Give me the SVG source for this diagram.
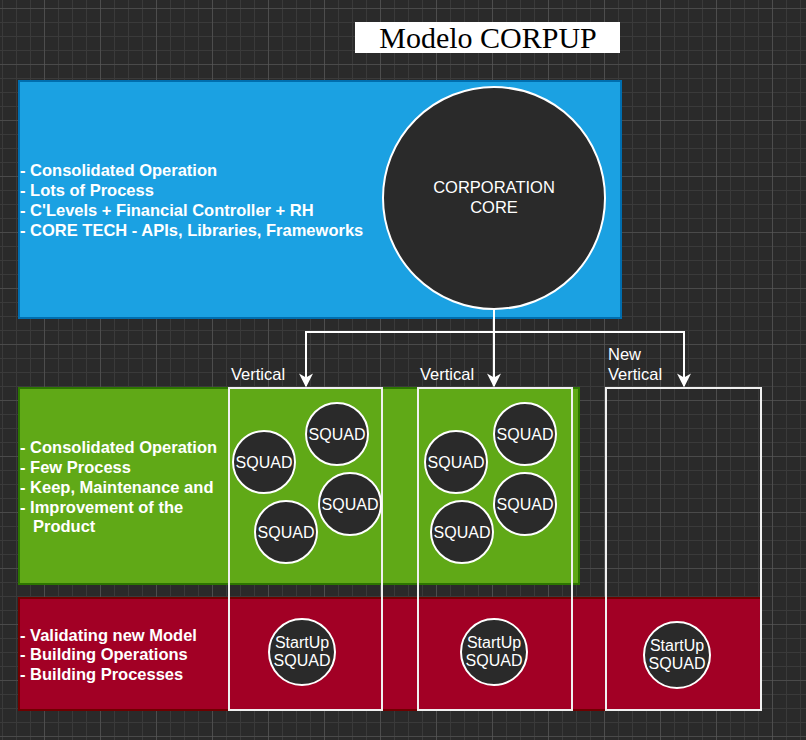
<svg xmlns="http://www.w3.org/2000/svg" width="806" height="740" viewBox="0 0 806 740">
<defs>
<pattern id="minor" x="2" y="8" width="14" height="14" patternUnits="userSpaceOnUse"><path d="M0 0H14M0 0V14" stroke="#3a3a3a" stroke-width="2" fill="none"/></pattern>
<pattern id="major" x="44" y="8" width="56" height="56" patternUnits="userSpaceOnUse"><path d="M0 0H56M0 0V56" stroke="#5a5a5a" stroke-width="1.2" fill="none"/></pattern>
<marker id="ah" viewBox="0 0 10 10" refX="9" refY="5" markerWidth="7" markerHeight="7" orient="auto"><path d="M0 0L10 5L0 10L3 5Z" fill="#fff"/></marker>
</defs>
<style>
.c{fill:#2a2a2a;stroke:#fff;stroke-width:2}
.t{font-family:"Liberation Sans",Arial,sans-serif;fill:#fff;font-size:16.5px}
.b{font-weight:bold;font-size:16.5px}
.s{font-size:16px}
.col{fill:none;stroke:#f0f0f0;stroke-width:2}
.ln{fill:none;stroke:#fff;stroke-width:2}
</style>
<rect width="806" height="740" fill="#2a2a2a"/>
<rect width="806" height="740" fill="url(#minor)"/>
<rect width="806" height="740" fill="url(#major)"/>
<g id="title"><rect x="355" y="22" width="265" height="31" fill="#fff"/><text x="488" y="48" text-anchor="middle" font-family="Liberation Serif,serif" font-size="30" fill="#000">Modelo CORPUP</text></g>
<g id="core-layer"><rect x="19" y="81" width="602" height="237" fill="#1ba1e2" stroke="#006eaf" stroke-width="2"/>
<text class="t b" x="20"><tspan x="20" y="176">- Consolidated Operation</tspan><tspan x="20" y="196">- Lots of Process</tspan><tspan x="20" y="216">- C'Levels + Financial Controller + RH</tspan><tspan x="20" y="236">- CORE TECH - APIs, Libraries, Frameworks</tspan></text></g>
<g id="product-layer"><rect x="19" y="388" width="560" height="196" fill="#60a917" stroke="#2d7600" stroke-width="2"/>
<text class="t b"><tspan x="20" y="453">- Consolidated Operation</tspan><tspan x="20" y="473">- Few Process</tspan><tspan x="20" y="493">- Keep, Maintenance and</tspan><tspan x="20" y="513">- Improvement of the</tspan><tspan x="33" y="532">Product</tspan></text></g>
<g id="startup-layer"><rect x="19" y="598" width="742" height="112" fill="#a20025" stroke="#6f0000" stroke-width="2"/>
<text class="t b"><tspan x="20" y="641">- Validating new Model</tspan><tspan x="20" y="660">- Building Operations</tspan><tspan x="20" y="680">- Building Processes</tspan></text></g>
<g id="core"><circle class="c" cx="494" cy="198" r="111"/><text class="t" text-anchor="middle"><tspan x="494" y="193">CORPORATION</tspan><tspan x="494" y="213">CORE</tspan></text></g>
<g id="vertical1"><rect class="col" x="229" y="388" width="153" height="322"/><text class="t" x="231" y="380">Vertical</text></g>
<g id="vertical2"><rect class="col" x="418" y="388" width="154" height="322"/><text class="t" x="420" y="380">Vertical</text></g>
<g id="vertical3"><rect class="col" x="606" y="388" width="155" height="322"/><text class="t"><tspan x="608" y="360">New</tspan><tspan x="608" y="380">Vertical</tspan></text></g>
<g id="squads" class="t s" text-anchor="middle">
<g id="s1"><circle class="c" cx="264" cy="462" r="31"/><text x="264" y="468">SQUAD</text></g>
<g id="s2"><circle class="c" cx="337" cy="434" r="31"/><text x="337" y="440">SQUAD</text></g>
<g id="s3"><circle class="c" cx="350" cy="504" r="31"/><text x="350" y="510">SQUAD</text></g>
<g id="s4"><circle class="c" cx="286" cy="532" r="31"/><text x="286" y="538">SQUAD</text></g>
<g id="s5"><circle class="c" cx="456" cy="462" r="31"/><text x="456" y="468">SQUAD</text></g>
<g id="s6"><circle class="c" cx="525" cy="434" r="31"/><text x="525" y="440">SQUAD</text></g>
<g id="s7"><circle class="c" cx="525" cy="504" r="31"/><text x="525" y="510">SQUAD</text></g>
<g id="s8"><circle class="c" cx="462" cy="532" r="31"/><text x="462" y="538">SQUAD</text></g>
<g id="su1"><circle class="c" cx="302" cy="652" r="33"/><text><tspan x="302" y="648">StartUp</tspan><tspan x="302" y="666">SQUAD</tspan></text></g>
<g id="su2"><circle class="c" cx="494" cy="652" r="33"/><text><tspan x="494" y="648">StartUp</tspan><tspan x="494" y="666">SQUAD</tspan></text></g>
<g id="su3"><circle class="c" cx="677" cy="655" r="33"/><text><tspan x="677" y="651">StartUp</tspan><tspan x="677" y="669">SQUAD</tspan></text></g>
</g>
<g id="connectors">
<path class="ln" d="M494 309V386" marker-end="url(#ah)"/>
<path class="ln" d="M494 332H306V386" marker-end="url(#ah)"/>
<path class="ln" d="M494 332H684V386" marker-end="url(#ah)"/>
</g>
</svg>
